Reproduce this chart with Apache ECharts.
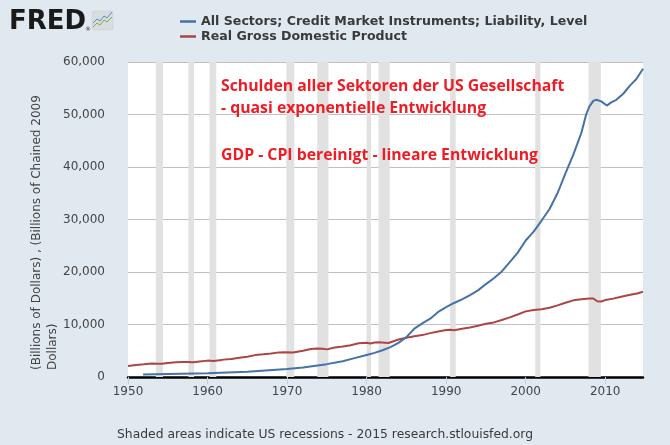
<!DOCTYPE html>
<html>
<head>
<meta charset="utf-8">
<script src="https://cdn.jsdelivr.net/npm/echarts@6/dist/echarts.min.js"></script>
<style>
html,body{margin:0;padding:0;background:#e1e9f0;}
#chart{width:670px;height:445px;}
</style>
</head>
<body>
<div id="chart"></div>
<script>
// ---- data ----
const seriesNames = ['All Sectors; Credit Market Instruments; Liability, Level', 'Real Gross Domestic Product'];

const debtYears = [1951.9, 1955, 1960, 1965, 1970, 1972, 1975, 1977, 1978, 1980, 1981, 1982, 1983, 1984, 1985, 1986, 1987, 1988, 1989, 1990, 1991, 1992, 1993, 1994, 1995, 1996, 1997, 1998, 1999, 2000, 2001, 2002, 2003, 2004, 2005, 2006, 2007, 2007.6, 2008, 2008.5, 2008.9, 2009.5, 2010.2, 2010.75, 2011.4, 2012.3, 2013.1, 2013.9, 2014.75];
const debtValues = [470, 580, 710, 1000, 1520, 1800, 2450, 3000, 3400, 4200, 4600, 5100, 5700, 6500, 7600, 9200, 10200, 11100, 12400, 13300, 14100, 14800, 15600, 16500, 17700, 18800, 20100, 21900, 23700, 26000, 27700, 29800, 32000, 35000, 38800, 42400, 46500, 50000, 51500, 52600, 52800, 52500, 51700, 52300, 52800, 54000, 55500, 56700, 58700];

const gdpYears = [1950, 1951, 1952, 1953, 1953.75, 1954.25, 1955, 1956, 1957, 1957.5, 1958.25, 1959, 1960, 1960.75, 1961.5, 1962, 1963, 1964, 1965, 1966, 1967, 1968, 1969, 1969.75, 1970.75, 1971, 1972, 1973, 1973.75, 1974.5, 1975, 1976, 1977, 1978, 1979, 1980, 1980.5, 1981, 1981.5, 1982.75, 1983, 1984, 1985, 1986, 1987, 1988, 1989, 1990, 1990.5, 1991, 1992, 1993, 1994, 1995, 1996, 1997, 1998, 1999, 2000, 2001, 2002, 2003, 2004, 2005, 2006, 2007, 2008, 2008.5, 2009, 2009.5, 2010, 2011, 2012, 2013, 2014, 2014.75];
const gdpValues = [2085, 2300, 2410, 2560, 2540, 2530, 2680, 2790, 2850, 2880, 2790, 2960, 3120, 3070, 3170, 3310, 3430, 3660, 3860, 4170, 4320, 4480, 4690, 4710, 4680, 4810, 5000, 5350, 5420, 5370, 5260, 5600, 5800, 6060, 6420, 6520, 6380, 6560, 6600, 6470, 6560, 7130, 7460, 7760, 7980, 8360, 8680, 8940, 8990, 8900, 9180, 9440, 9780, 10150, 10400, 10850, 11350, 11900, 12500, 12750, 12900, 13180, 13650, 14150, 14600, 14800, 14950, 14950, 14420, 14380, 14650, 14930, 15300, 15600, 15900, 16250];

const recessions = [[1953.5, 1954.4], [1957.6, 1958.3], [1960.25, 1961.1], [1969.9, 1970.9], [1973.8, 1975.2], [1980.0, 1980.55], [1981.5, 1982.9], [1990.5, 1991.2], [2001.2, 2001.85], [2007.9, 2009.45]];

const xTicks = {min: 1950, max: 2014.75, interval: 10};
const yTicks = {min: 0, max: 60000, interval: 10000};

const annotationLines = ['Schulden aller Sektoren der US Gesellschaft', '- quasi exponentielle Entwicklung', 'GDP - CPI bereinigt - lineare Entwicklung'];
const yAxisNameLines = ['(Billions of Dollars) , (Billions of Chained 2009', 'Dollars)'];
const footer = 'Shaded areas indicate US recessions - 2015 research.stlouisfed.org';

// ---- chart ----
const FONT = 'DejaVu Sans';
const chart = echarts.init(document.getElementById('chart'));
const fmt = v => String(v).replace(/\B(?=(\d{3})+(?!\d))/g, ',');
const RED = '#ee1c24';
const ANN_FONT = 'bold 15.8px "Open Sans"';

chart.setOption({
  backgroundColor: '#e1e9f0',
  animation: false,
  grid: {left: 128, right: 27, top: 62, bottom: 68, show: true, backgroundColor: '#ffffff', borderWidth: 0},
  legend: {
    orient: 'vertical', left: 175, top: 10, itemGap: 2,
    icon: 'rect', itemWidth: 16, itemHeight: 2.5,
    textStyle: {fontFamily: FONT, fontWeight: 'bold', fontSize: 12.6, color: '#3a3a3a', lineHeight: 13, padding: [0, 0, 0, 0]},
    data: seriesNames
  },
  xAxis: {
    type: 'value', min: xTicks.min, max: xTicks.max, interval: xTicks.interval,
    axisLine: {lineStyle: {color: '#000', width: 2.5}},
    axisTick: {length: 7, lineStyle: {color: '#c0d0e0'}},
    axisLabel: {fontFamily: FONT, fontSize: 12, color: '#444', margin: 9, formatter: v => String(Math.round(v)), showMaxLabel: false},
    splitLine: {show: false}
  },
  yAxis: {
    type: 'value', min: yTicks.min, max: yTicks.max, interval: yTicks.interval,
    axisLine: {show: false}, axisTick: {show: false},
    axisLabel: {fontFamily: FONT, fontSize: 12, color: '#444', margin: 23, formatter: fmt},
    splitLine: {lineStyle: {color: '#c0c0c0', width: 1}}
  },
  series: [
    {
      name: '_recessions', type: 'line', data: [], z: 1, silent: true,
      markArea: {silent: true, itemStyle: {color: '#e1e1e1'},
        data: recessions.map(r => [{xAxis: r[0]}, {xAxis: r[1]}])}
    },
    {
      name: seriesNames[0], type: 'line', z: 3, showSymbol: false, color: '#4572A7',
      lineStyle: {width: 2, color: '#4572A7'},
      data: debtYears.map((y, i) => [y, debtValues[i]])
    },
    {
      name: seriesNames[1], type: 'line', z: 2, showSymbol: false, color: '#AA4643',
      lineStyle: {width: 2, color: '#AA4643'},
      data: gdpYears.map((y, i) => [y, gdpValues[i]])
    }
  ],
  graphic: [
    // FRED logo
    {type: 'text', z: 100, left: 9, top: 9, style: {text: 'FRED', font: '900 26px "DejaVu Sans"', fill: '#1a1a1a'}},
    {type: 'text', z: 100, left: 85, top: 26, style: {text: '®', font: '6px "DejaVu Sans"', fill: '#333'}},
    {type: 'rect', z: 100, shape: {x: 92, y: 11, width: 21, height: 19, r: 2}, style: {fill: '#d8dde2', stroke: '#c4c9ce', lineWidth: 0.5}},
    {type: 'polyline', z: 101, shape: {points: [[93, 23], [97, 19], [100, 21], [104, 16], [107, 18], [112, 12]]}, style: {stroke: '#5b8cc2', lineWidth: 1, fill: null}},
    {type: 'polyline', z: 101, shape: {points: [[93, 27], [97, 23], [100, 25], [104, 20], [107, 22], [112, 17]]}, style: {stroke: '#7fae3f', lineWidth: 1, fill: null}},
    // annotations
    {type: 'text', z: 100, x: 221, y: 86, style: {text: annotationLines[0], font: ANN_FONT, fill: RED, textVerticalAlign: 'middle'}},
    {type: 'text', z: 100, x: 221, y: 108, style: {text: annotationLines[1], font: ANN_FONT, fill: RED, textVerticalAlign: 'middle'}},
    {type: 'text', z: 100, x: 221, y: 155, style: {text: annotationLines[2], font: ANN_FONT, fill: RED, textVerticalAlign: 'middle'}},
    // y axis name
    {type: 'text', z: 100, x: 37, y: 370, rotation: Math.PI / 2, style: {text: yAxisNameLines[0], font: '12px "DejaVu Sans"', fill: '#444', textAlign: 'left', textVerticalAlign: 'middle'}},
    {type: 'text', z: 100, x: 53, y: 370, rotation: Math.PI / 2, style: {text: yAxisNameLines[1], font: '12px "DejaVu Sans"', fill: '#444', textAlign: 'left', textVerticalAlign: 'middle'}},
    // footer
    {type: 'text', z: 100, x: 117, y: 435, style: {text: footer, font: '12.35px "DejaVu Sans"', fill: '#3a3a3a', textVerticalAlign: 'middle'}}
  ]
});
</script>
</body>
</html>
